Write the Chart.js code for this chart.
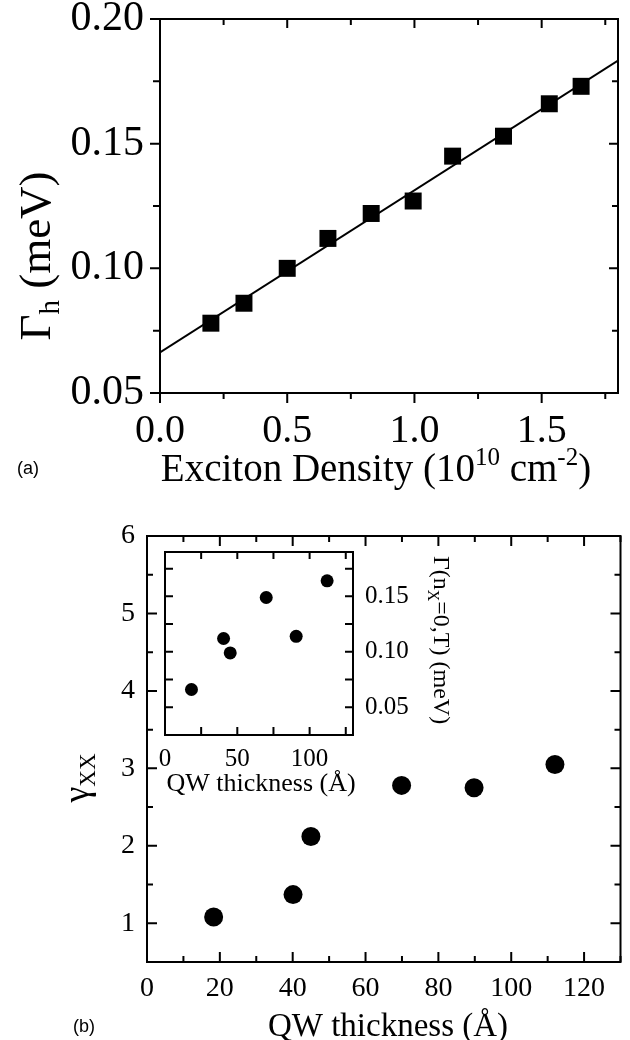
<!DOCTYPE html>
<html>
<head>
<meta charset="utf-8">
<script src="https://cdn.jsdelivr.net/npm/chart.js@4/dist/chart.umd.min.js"></script>
<style>
  html, body { margin: 0; padding: 0; background: #fff; }
  body { width: 630px; height: 1040px; position: relative; overflow: hidden; }
  canvas { position: absolute; }
  #chartA { left: 0; top: 0; }
  #chartB { left: 0; top: 500px; }
  #chartInset { left: 150px; top: 545px; }
</style>
</head>
<body>
<canvas id="chartA" width="630" height="500"></canvas>
<canvas id="chartB" width="630" height="540"></canvas>
<canvas id="chartInset" width="330" height="265"></canvas>
<script>
// (a) homogeneous linewidth vs exciton density
const densityA = [0.20, 0.33, 0.50, 0.66, 0.83, 0.995, 1.15, 1.35, 1.53, 1.655];
const gammaA   = [0.078, 0.086, 0.100, 0.112, 0.122, 0.127, 0.145, 0.153, 0.166, 0.173];
const fitX = [0, 1.8];
const fitY = [0.0663, 0.1833];
const xTicksA = [0, 0.5, 1.0, 1.5];
const xMinorA = [0.25, 0.75, 1.25, 1.75];
const yTicksA = [0.05, 0.10, 0.15, 0.20];
const yMinorA = [0.075, 0.125, 0.175];

// (b) gamma_XX vs QW thickness
const thicknessB = [18.3, 40.1, 45.0, 69.9, 89.8, 112.0];
const gammaXX    = [1.08, 1.37, 2.12, 2.78, 2.75, 3.05];
const xTicksB = [0, 20, 40, 60, 80, 100, 120];
const xMinorB = [10, 30, 50, 70, 90, 110, 130];
const yTicksB = [1, 2, 3, 4, 5, 6];
const yMinorB = [0.5, 1.5, 2.5, 3.5, 4.5, 5.5];

// inset: zero-density linewidth vs QW thickness
const thicknessIn = [18.3, 40.5, 45.1, 70.0, 90.7, 112.1];
const gamma0In    = [0.066, 0.112, 0.099, 0.149, 0.114, 0.164];
const xTicksIn = [0, 50, 100];
const xMinorIn = [25, 75, 125];
const yTicksIn = [0.05, 0.10, 0.15];
const yMinorIn = [0.025, 0.075, 0.125, 0.175];

const SERIF = "'Liberation Serif', 'Times New Roman', serif";
const SANS = "'Liberation Sans', Arial, sans-serif";

function seg(text, size, dy, family) {
    return { text: text, size: size, dy: dy || 0, family: family || SERIF };
}

// draw a line of text made of pieces (for sub/superscripts), centred on x
function drawRich(ctx, segs, x, y, rot) {
    ctx.save();
    ctx.translate(x, y);
    ctx.rotate(rot || 0);
    ctx.fillStyle = '#000';
    ctx.textAlign = 'left';
    ctx.textBaseline = 'alphabetic';
    let w = 0;
    segs.forEach(s => { ctx.font = s.size + 'px ' + s.family; w += ctx.measureText(s.text).width; });
    let cx = -w / 2;
    segs.forEach(s => {
        ctx.font = s.size + 'px ' + s.family;
        ctx.fillText(s.text, cx, s.dy);
        cx += ctx.measureText(s.text).width;
    });
    ctx.restore();
}

// frame, tick marks and axis titles
function framePlugin(spec) {
    return {
        id: 'frame',
        afterDraw(chart) {
            const ctx = chart.ctx, a = chart.chartArea;
            const xs = chart.scales.x, ys = chart.scales.y;
            ctx.save();
            ctx.strokeStyle = '#000';
            ctx.lineWidth = spec.lineWidth;
            ctx.strokeRect(a.left, a.top, a.right - a.left, a.bottom - a.top);

            ctx.beginPath();
            const mark = (vals, side, len) => {
                vals.forEach(v => {
                    if (side === 'bottom' || side === 'top') {
                        const p = xs.getPixelForValue(v);
                        if (side === 'bottom') { ctx.moveTo(p, a.bottom - len[0]); ctx.lineTo(p, a.bottom + len[1]); }
                        else { ctx.moveTo(p, a.top + len[0]); ctx.lineTo(p, a.top - len[1]); }
                    } else {
                        const p = ys.getPixelForValue(v);
                        if (side === 'left') { ctx.moveTo(a.left + len[0], p); ctx.lineTo(a.left - len[1], p); }
                        else { ctx.moveTo(a.right - len[0], p); ctx.lineTo(a.right + len[1], p); }
                    }
                });
            };
            ['bottom', 'top'].forEach(s => {
                mark(spec.xMajor, s, spec[s].major);
                mark(spec.xMinor, s, spec[s].minor);
            });
            ['left', 'right'].forEach(s => {
                mark(spec.yMajor, s, spec[s].major);
                mark(spec.yMinor, s, spec[s].minor);
            });
            ctx.stroke();

            spec.labels.forEach(l => drawRich(ctx, l.segs, l.x - spec.offX, l.y - spec.offY, l.rot));
            ctx.restore();
        }
    };
}

function fixWidth(w) {
    return s => { s.width = w; s.paddingTop = 0; s.paddingBottom = 0; s.paddingLeft = 0; s.paddingRight = 0; };
}
function fixHeight(h) {
    return s => { s.height = h; s.paddingTop = 0; s.paddingBottom = 0; s.paddingLeft = 0; s.paddingRight = 0; };
}
function setTicks(list) {
    return s => { s.ticks = list.map(v => ({ value: v })); };
}

function tickOpts(size, pad, fmt) {
    return {
        color: '#000', padding: pad, autoSkip: false, maxRotation: 0, minRotation: 0,
        font: { family: SERIF, size: size, lineHeight: 1 },
        callback: fmt
    };
}

const noGrid = { display: false, drawTicks: false };
const baseOpts = {
    responsive: false,
    animation: false,
    events: [],
    plugins: { legend: { display: false }, tooltip: { enabled: false } }
};

// ---- panel (a)
new Chart(document.getElementById('chartA'), {
    type: 'scatter',
    data: {
        datasets: [{
            data: fitX.map((x, i) => ({ x: x, y: fitY[i] })),
            showLine: true, borderColor: '#000', borderWidth: 2, pointRadius: 0
        }, {
            data: densityA.map((x, i) => ({ x: x, y: gammaA[i] })),
            pointStyle: 'rect', pointRadius: 12, backgroundColor: '#000', borderWidth: 0
        }]
    },
    options: Object.assign({}, baseOpts, {
        layout: { padding: { top: 19, right: 1, left: 0, bottom: 0 } },
        scales: {
            x: {
                type: 'linear', min: 0, max: 1.8,
                afterBuildTicks: setTicks(xTicksA), afterFit: fixHeight(107),
                grid: noGrid, border: { display: false },
                ticks: tickOpts(40, 18, v => v.toFixed(1))
            },
            y: {
                type: 'linear', min: 0.05, max: 0.20,
                afterBuildTicks: setTicks(yTicksA), afterFit: fixWidth(160),
                grid: noGrid, border: { display: false },
                ticks: tickOpts(42, 16, v => v.toFixed(2))
            }
        }
    }),
    plugins: [framePlugin({
        lineWidth: 2, offX: 0, offY: 0,
        xMajor: xTicksA, xMinor: xMinorA, yMajor: yTicksA, yMinor: yMinorA,
        bottom: { major: [0, 10], minor: [0, 6] },
        top: { major: [9, 0], minor: [6, 0] },
        left: { major: [0, 10], minor: [0, 7] },
        right: { major: [9, 0], minor: [6, 0] },
        labels: [
            { segs: [seg('Exciton Density (10', 39), seg('10', 25, -16), seg(' cm', 39), seg('-2', 25, -16), seg(')', 39)], x: 376, y: 481 },
            { segs: [seg('Γ', 45), seg('h', 29, 9), seg(' (meV)', 45)], x: 50, y: 256, rot: -Math.PI / 2 },
            { segs: [seg('(a)', 18, 0, SANS)], x: 28, y: 474 }
        ]
    })]
});

// ---- panel (b)
new Chart(document.getElementById('chartB'), {
    type: 'scatter',
    data: {
        datasets: [{
            data: thicknessB.map((x, i) => ({ x: x, y: gammaXX[i] })),
            pointStyle: 'circle', pointRadius: 9.5, backgroundColor: '#000', borderWidth: 0
        }]
    },
    options: Object.assign({}, baseOpts, {
        layout: { padding: { top: 36, right: 2, left: 0, bottom: 0 } },
        scales: {
            x: {
                type: 'linear', min: 0, max: 130,
                afterBuildTicks: setTicks(xTicksB), afterFit: fixHeight(78),
                grid: noGrid, border: { display: false },
                ticks: tickOpts(28, 13, v => String(v))
            },
            y: {
                type: 'linear', min: 0.5, max: 6,
                afterBuildTicks: setTicks(yTicksB), afterFit: fixWidth(147),
                grid: noGrid, border: { display: false },
                ticks: tickOpts(28, 12, v => String(v))
            }
        }
    }),
    plugins: [framePlugin({
        lineWidth: 2, offX: 0, offY: 500,
        xMajor: xTicksB, xMinor: xMinorB, yMajor: yTicksB, yMinor: yMinorB,
        bottom: { major: [10, 0], minor: [6, 0] },
        top: { major: [10, 0], minor: [6, 0] },
        left: { major: [10, 0], minor: [6, 0] },
        right: { major: [10, 0], minor: [6, 0] },
        labels: [
            { segs: [seg('QW thickness (Å)', 33)], x: 388, y: 1036 },
            { segs: [seg('γ', 36), seg('XX', 23, 7)], x: 88, y: 778, rot: -Math.PI / 2 },
            { segs: [seg('(b)', 18, 0, SANS)], x: 84, y: 1032 }
        ]
    })]
});

// ---- inset
new Chart(document.getElementById('chartInset'), {
    type: 'scatter',
    data: {
        datasets: [{
            data: thicknessIn.map((x, i) => ({ x: x, y: gamma0In[i] })),
            pointStyle: 'circle', pointRadius: 6.5, backgroundColor: '#000', borderWidth: 0
        }]
    },
    options: Object.assign({}, baseOpts, {
        layout: { padding: { top: 7, right: 0, left: 15, bottom: 0 } },
        scales: {
            x: {
                type: 'linear', min: 0, max: 130,
                afterBuildTicks: setTicks(xTicksIn), afterFit: fixHeight(75),
                grid: noGrid, border: { display: false },
                ticks: tickOpts(25, 12, v => String(v))
            },
            y: {
                type: 'linear', position: 'right', min: 0.025, max: 0.19,
                afterBuildTicks: setTicks(yTicksIn), afterFit: fixWidth(127),
                grid: noGrid, border: { display: false },
                ticks: tickOpts(25, 12, v => v.toFixed(2))
            }
        }
    }),
    plugins: [framePlugin({
        lineWidth: 2, offX: 150, offY: 545,
        xMajor: xTicksIn, xMinor: xMinorIn, yMajor: yTicksIn, yMinor: yMinorIn,
        bottom: { major: [8, 0], minor: [8, 0] },
        top: { major: [7, 0], minor: [7, 0] },
        left: { major: [8, 0], minor: [8, 0] },
        right: { major: [8, 0], minor: [8, 0] },
        labels: [
            { segs: [seg('QW thickness (Å)', 26)], x: 261, y: 791 },
            { segs: [seg('Γ(n', 24), seg('X', 16, 6), seg('=0,T) (meV)', 24)], x: 434, y: 640, rot: Math.PI / 2 }
        ]
    })]
});
</script>
</body>
</html>
